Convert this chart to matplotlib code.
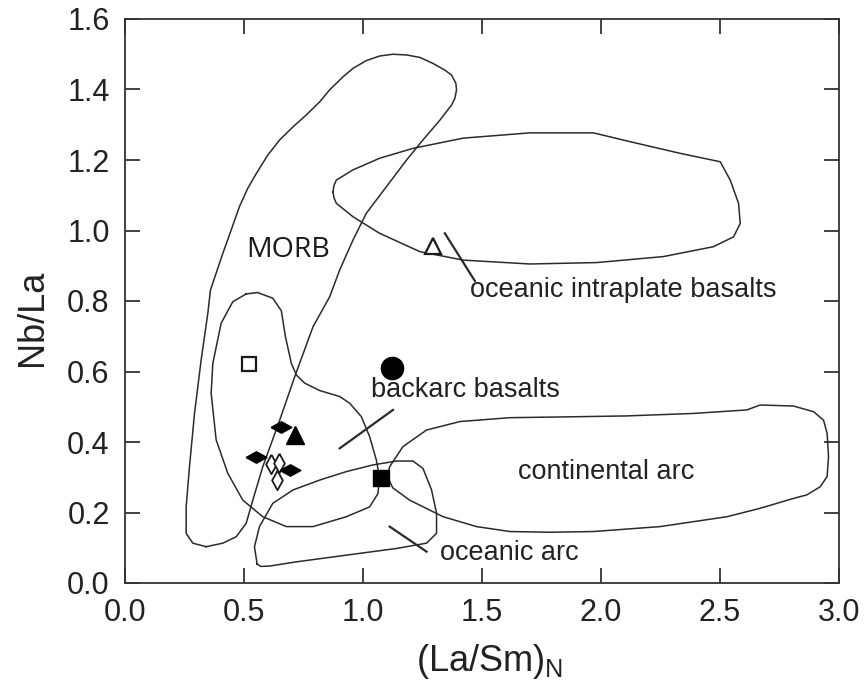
import numpy as np
import matplotlib
matplotlib.use("Agg")
import matplotlib.pyplot as plt

plt.rcParams['font.family'] = ['Liberation Sans', 'DejaVu Sans']
plt.rcParams['mathtext.default'] = 'regular'

# field outlines, (La/Sm)N vs Nb/La
morb_x = [0.341, 0.285, 0.257, 0.257, 0.271, 0.292, 0.320, 0.348, 0.359, 0.383,
          0.411, 0.446, 0.481, 0.516, 0.552, 0.600, 0.650, 0.706, 0.762, 0.818,
          0.860, 0.916, 0.958, 1.014, 1.070, 1.126, 1.183, 1.239, 1.294, 1.344,
          1.372, 1.390, 1.393, 1.386, 1.372, 1.323, 1.252, 1.183, 1.098, 1.014,
          0.958, 0.902, 0.860, 0.790, 0.713, 0.650, 0.579, 0.537, 0.509, 0.467,
          0.411, 0.341]
morb_y = [0.103, 0.113, 0.141, 0.216, 0.330, 0.481, 0.633, 0.765, 0.831, 0.879,
          0.935, 1.001, 1.068, 1.120, 1.162, 1.214, 1.257, 1.294, 1.328, 1.365,
          1.399, 1.436, 1.460, 1.482, 1.495, 1.500, 1.498, 1.491, 1.474, 1.455,
          1.441, 1.418, 1.399, 1.375, 1.356, 1.313, 1.257, 1.200, 1.124, 1.049,
          0.973, 0.888, 0.812, 0.727, 0.585, 0.462, 0.330, 0.235, 0.169, 0.131,
          0.113, 0.103]

backarc_x = [0.509, 0.557, 0.621, 0.657, 0.674, 0.699, 0.720, 0.755, 0.818, 0.902,
             0.944, 0.993, 1.028, 1.056, 1.069, 1.063, 1.028, 0.930, 0.790, 0.678,
             0.579, 0.495, 0.432, 0.383, 0.362, 0.369, 0.404, 0.453, 0.509]
backarc_y = [0.820, 0.824, 0.808, 0.772, 0.699, 0.623, 0.590, 0.567, 0.546, 0.529,
             0.510, 0.472, 0.415, 0.349, 0.302, 0.254, 0.216, 0.188, 0.160, 0.160,
             0.188, 0.235, 0.311, 0.406, 0.538, 0.623, 0.737, 0.798, 0.820]

ocean_arc_x = [0.555, 0.544, 0.565, 0.621, 0.706, 0.818, 0.930, 1.042, 1.141, 1.210,
               1.252, 1.288, 1.309, 1.309, 1.267, 1.141, 0.930, 0.720, 0.607, 0.570,
               0.555]
ocean_arc_y = [0.054, 0.103, 0.160, 0.226, 0.264, 0.292, 0.316, 0.335, 0.346, 0.346,
               0.325, 0.264, 0.198, 0.141, 0.113, 0.098, 0.079, 0.060, 0.048, 0.047,
               0.054]

cont_arc_x = [1.102, 1.112, 1.168, 1.267, 1.407, 1.617, 1.828, 2.108, 2.388, 2.613,
              2.669, 2.809, 2.893, 2.935, 2.950, 2.956, 2.950, 2.921, 2.865, 2.809,
              2.669, 2.529, 2.248, 1.968, 1.785, 1.617, 1.477, 1.337, 1.196, 1.125,
              1.102]
cont_arc_y = [0.302, 0.330, 0.387, 0.434, 0.458, 0.469, 0.471, 0.474, 0.481, 0.491,
              0.505, 0.502, 0.486, 0.462, 0.425, 0.358, 0.302, 0.273, 0.250, 0.240,
              0.212, 0.188, 0.160, 0.146, 0.144, 0.146, 0.160, 0.188, 0.235, 0.270,
              0.302]

oib_x = [0.874, 0.878, 0.888, 0.958, 1.070, 1.210, 1.421, 1.701, 1.968, 2.122,
         2.332, 2.501, 2.543, 2.578, 2.585, 2.557, 2.472, 2.262, 1.982, 1.701,
         1.421, 1.239, 1.070, 0.958, 0.888, 0.878, 0.874]
oib_y = [1.110, 1.128, 1.143, 1.172, 1.205, 1.233, 1.262, 1.277, 1.277, 1.252,
         1.219, 1.195, 1.143, 1.077, 1.020, 0.982, 0.954, 0.926, 0.909, 0.905,
         0.916, 0.940, 0.992, 1.039, 1.077, 1.093, 1.110]

# leader lines from labels to fields
leader_oib = ([1.344, 1.470], [0.992, 0.857])
leader_backarc = ([1.126, 0.902], [0.491, 0.382])
leader_ocean_arc = ([1.112, 1.267], [0.160, 0.089])

# samples
open_square = ([0.52], [0.62])
filled_circle = ([1.12], [0.61])
filled_triangle = ([0.713], [0.42])
filled_square = ([1.074], [0.297])
open_triangle = ([1.295], [0.956])
filled_diamonds = ([0.657, 0.549, 0.692], [0.443, 0.358, 0.321])
open_diamonds = ([0.615, 0.648, 0.638], [0.337, 0.340, 0.292])

line_c = '#2b2b2b'
flat_diamond = [(-1, 0), (0, 0.55), (1, 0), (0, -0.55), (-1, 0)]
tall_diamond = [(0, 1), (0.55, 0), (0, -1), (-0.55, 0), (0, 1)]

fig = plt.figure(figsize=(8.64, 6.84), dpi=100)
ax = fig.add_axes([125 / 864, 1 - 583 / 684, 714 / 864, 564 / 684])

for fx, fy in [(morb_x, morb_y), (backarc_x, backarc_y), (ocean_arc_x, ocean_arc_y),
               (cont_arc_x, cont_arc_y), (oib_x, oib_y)]:
    ax.plot(fx, fy, color=line_c, lw=1.1, solid_joinstyle='round')

for lx, ly in [leader_oib, leader_backarc, leader_ocean_arc]:
    ax.plot(lx, ly, color=line_c, lw=1.6)

ax.plot(*open_square, 's', ms=9.5, mfc='white', mec='#1a1a1a', mew=1.6)
ax.plot(*filled_circle, 'o', ms=16, color='black')
ax.plot(*filled_triangle, '^', ms=13, color='black')
ax.plot(*filled_square, 's', ms=11.5, color='black')
ax.plot(*open_triangle, '^', ms=11, mfc='white', mec='#1a1a1a', mew=1.6)
ax.plot(*open_diamonds, ls='none', marker=tall_diamond, ms=14, mfc='white',
        mec='#1a1a1a', mew=1.3)
ax.plot(*filled_diamonds, ls='none', marker=flat_diamond, ms=15, color='black')

txt_c = '#222222'
ax.text(0.508, 0.945, 'MORB', fontsize=20.5, family=['Open Sans', 'DejaVu Sans'],
        va='center', ha='left', color='#1a1a1a')
ax.text(1.449, 0.831, 'oceanic intraplate basalts', fontsize=19.5, va='center',
        ha='left', color=txt_c)
ax.text(1.035, 0.548, 'backarc basalts', fontsize=19.5, va='center', ha='left',
        color=txt_c)
ax.text(1.651, 0.315, 'continental arc', fontsize=19.5, va='center', ha='left',
        color=txt_c)
ax.text(1.323, 0.085, 'oceanic arc', fontsize=19.5, va='center', ha='left',
        color=txt_c)

ax.set_xlim(0, 3.0)
ax.set_ylim(0, 1.6)
ax.set_xticks(np.arange(0, 3.01, 0.5))
ax.set_yticks(np.arange(0, 1.61, 0.2))
ax.set_xticklabels([f'{v:.1f}' for v in np.arange(0, 3.01, 0.5)])
ax.set_yticklabels([f'{v:.1f}' for v in np.arange(0, 1.61, 0.2)])
ax.tick_params(direction='in', length=11, width=1.3, top=True, right=True,
               labelsize=22, pad=11, colors='#333333', labelcolor=txt_c)
for s in ax.spines.values():
    s.set_linewidth(1.3)
    s.set_color('#333333')

ax.set_xlabel('(La/Sm)$_N$', fontsize=26, color=txt_c)
ax.set_ylabel('Nb/La', fontsize=26, color=txt_c)
ax.xaxis.set_label_coords(0.51, -0.105)
ax.yaxis.set_label_coords(-0.105, 0.47)

fig.savefig('out.png', dpi=100)
